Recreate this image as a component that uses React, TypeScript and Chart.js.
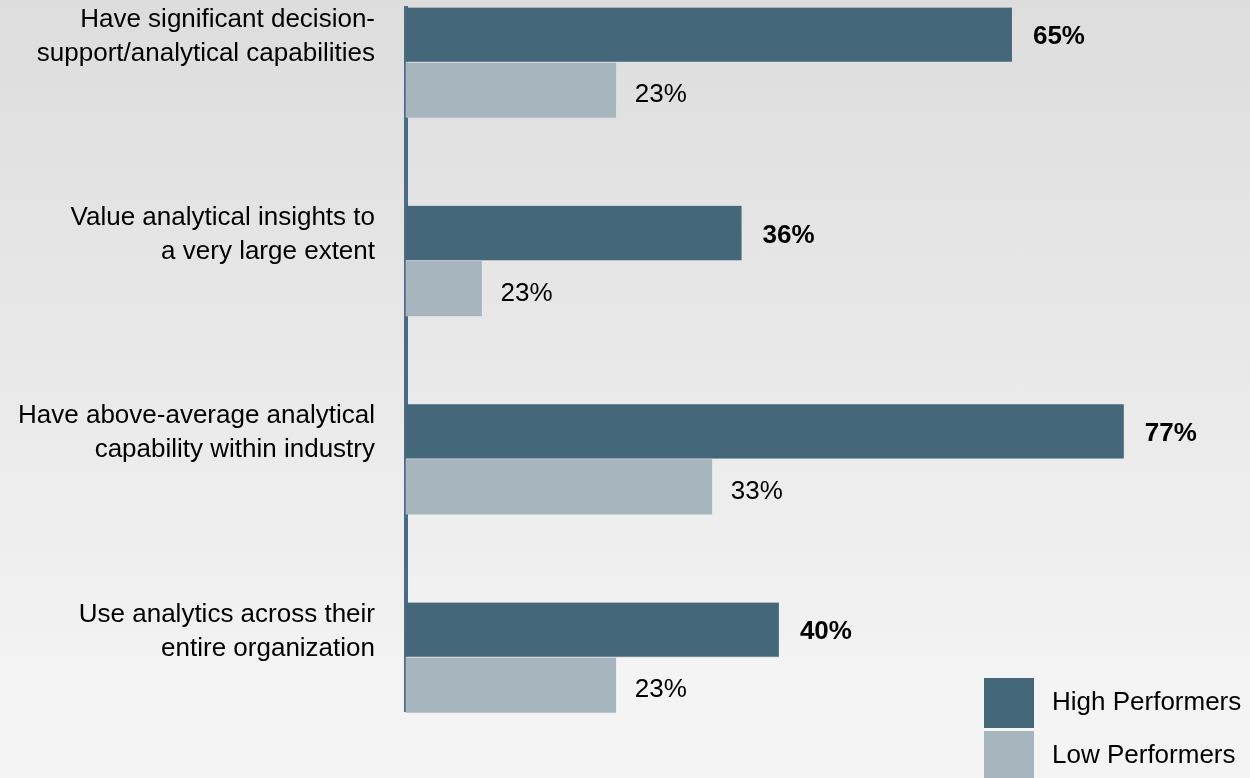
import React, { useEffect, useRef } from "react";
import { Chart, registerables } from "chart.js";

Chart.register(...registerables);

const categories: string[][] = [
  ["Have significant decision-", "support/analytical capabilities"],
  ["Value analytical insights to", "a very large extent"],
  ["Have above-average analytical", "capability within industry"],
  ["Use analytics across their", "entire organization"],
];
const seriesNames = ["High Performers", "Low Performers"];
const highValues = [65, 36, 77, 40];
const lowValues = [22.5, 8.1, 32.8, 22.5];
const highLabels = ["65%", "36%", "77%", "40%"];
const lowLabels = ["23%", "23%", "33%", "23%"];

const HIGH_COLOR = "#45677a";
const LOW_COLOR = "#a7b6be";
const FONT = '"Liberation Sans", Arial, sans-serif';

export default function App() {
  const ref = useRef<HTMLCanvasElement | null>(null);

  useEffect(() => {
    document.body.style.margin = "0";
    const canvas = ref.current!;
    const valueLabels = {
      id: "valueLabels",
      afterDatasetsDraw(chart: any) {
        const ctx = chart.ctx;
        ctx.save();
        ctx.textBaseline = "middle";
        ctx.textAlign = "left";
        ctx.fillStyle = "#000";
        chart.data.datasets.forEach((ds: any, di: number) => {
          const meta = chart.getDatasetMeta(di);
          const texts = di === 0 ? highLabels : lowLabels;
          ctx.font = (di === 0 ? "bold " : "") + "26px " + FONT;
          meta.data.forEach((el: any, i: number) => {
            ctx.fillText(texts[i], el.x + (di === 0 ? 21 : 19), el.y + (di === 0 ? 2 : 5));
          });
        });
        ctx.restore();
      },
    };
    const legendPlugin = {
      id: "customLegend",
      afterDraw(chart: any) {
        const ctx = chart.ctx;
        ctx.save();
        const colors = [HIGH_COLOR, LOW_COLOR];
        const ys = [678, 731];
        ctx.font = "26px " + FONT;
        ctx.textBaseline = "middle";
        ctx.textAlign = "left";
        seriesNames.forEach((name, i) => {
          ctx.fillStyle = colors[i];
          ctx.fillRect(984, ys[i], 50, 50);
          ctx.fillStyle = "#000";
          ctx.fillText(name, 1052, ys[i] + 25);
        });
        ctx.restore();
      },
    };

    const chart = new Chart(canvas, {
      type: "bar",
      data: {
        datasets: [
          {
            label: seriesNames[0],
            data: highValues.map((v, i) => ({ x: v, y: i })),
            backgroundColor: HIGH_COLOR,
            borderColor: "#dde2e5",
            borderWidth: { top: 0, left: 0, right: 0, bottom: 1 },
            borderSkipped: false,
            barThickness: 55,
            clip: false as any,
          },
          {
            label: seriesNames[1],
            data: lowValues.map((v, i) => ({ x: v, y: i })),
            backgroundColor: LOW_COLOR,
            borderWidth: 0,
            barThickness: 55,
            clip: false as any,
          },
        ],
      },
      options: {
        indexAxis: "y",
        animation: false,
        responsive: false,
        devicePixelRatio: 1,
        layout: { padding: { top: 8, bottom: 67, left: 0, right: 5 } },
        plugins: { legend: { display: false }, tooltip: { enabled: false } },
        scales: {
          x: { type: "linear", display: false, min: 0, max: 90, offset: false },
          y: {
            type: "linear",
            reverse: true,
            offset: false,
            min: -0.2748,
            max: 3.2698,
            afterBuildTicks: (scale: any) => {
              scale.ticks = categories.map((_, i) => ({ value: i }));
            },
            afterFit: (scale: any) => {
              scale.width = 406;
              scale.paddingTop = 0;
              scale.paddingBottom = 0;
            },
            grid: { display: false, drawTicks: false, offset: false },
            border: { display: true, color: "#4b6b82", width: 4 },
            ticks: {
              padding: 31,
              labelOffset: -26,
              color: "#000",
              font: { family: FONT, size: 26, lineHeight: 1.31 },
              callback: (v: any) => categories[Math.round(Number(v))] ?? "",
            },
          },
        },
      },
      plugins: [valueLabels, legendPlugin],
    } as any);
    return () => chart.destroy();
  }, []);

  return (
    <div
      style={{
        position: "absolute",
        left: 0,
        top: 0,
        width: 1250,
        height: 778,
        background: "linear-gradient(to bottom, #dddddd 0px, #f2f2f2 655px, #f4f4f4 660px, #f4f4f4 778px)",
      }}
    >
      <canvas ref={ref} width={1250} height={778} style={{ display: "block" }} />
    </div>
  );
}
